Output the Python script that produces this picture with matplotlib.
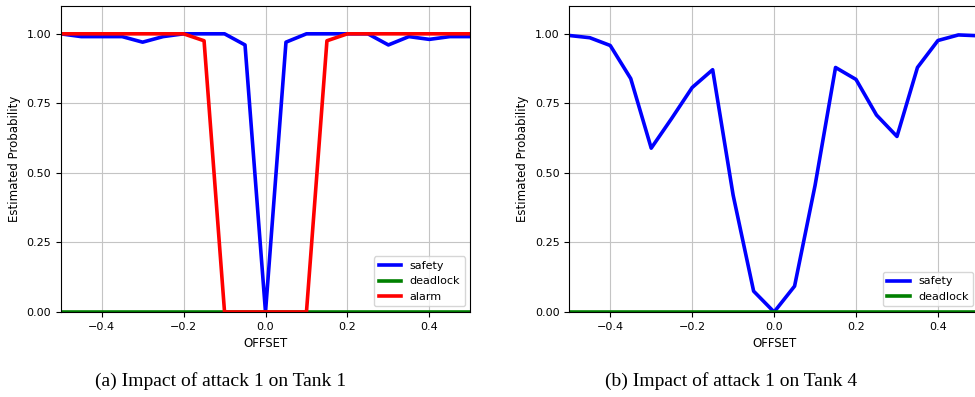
import numpy as np
import matplotlib.pyplot as plt

offset = np.round(np.arange(-0.5, 0.501, 0.05), 2)

# (a) tank 1
safety_t1 = [1.00, 0.99, 0.99, 0.99, 0.97, 0.99, 1.00, 1.00, 1.00, 0.96, 0.00,
             0.97, 1.00, 1.00, 1.00, 1.00, 0.96, 0.99, 0.98, 0.99, 0.99]
deadlock_t1 = [0.0] * 21
alarm_t1 = [1.00, 1.00, 1.00, 1.00, 1.00, 1.00, 1.00, 0.975, 0.00, 0.00, 0.00,
            0.00, 0.00, 0.975, 1.00, 1.00, 1.00, 1.00, 1.00, 1.00, 1.00]

# (b) tank 4
safety_t4 = [0.994, 0.986, 0.958, 0.839, 0.589, 0.696, 0.807, 0.871, 0.42, 0.075, 0.00,
             0.093, 0.455, 0.879, 0.836, 0.708, 0.631, 0.879, 0.976, 0.996, 0.993]
deadlock_t4 = [0.0] * 21

captions = ["(a) Impact of attack 1 on Tank 1", "(b) Impact of attack 1 on Tank 4"]

plt.rcParams["font.size"] = 8

fig = plt.figure(figsize=(9.75, 3.97), dpi=100)
ax1 = fig.add_axes([60.7 / 975, 85 / 397, 409.6 / 975, 306 / 397])
ax2 = fig.add_axes([569.3 / 975, 85 / 397, 409.6 / 975, 306 / 397])

ax1.plot(offset, safety_t1, color="blue", lw=2.6, label="safety")
ax1.plot(offset, deadlock_t1, color="green", lw=2.6, label="deadlock")
ax1.plot(offset, alarm_t1, color="red", lw=2.6, label="alarm")

ax2.plot(offset, safety_t4, color="blue", lw=2.6, label="safety")
ax2.plot(offset, deadlock_t4, color="green", lw=2.6, label="deadlock")

for ax in (ax1, ax2):
    ax.set_xlim(-0.5, 0.5)
    ax.set_ylim(0, 1.1)
    ax.set_yticks([0, 0.25, 0.5, 0.75, 1.0])
    ax.set_xticks([-0.4, -0.2, 0.0, 0.2, 0.4])
    ax.grid(True, color="#c4c4c4", lw=0.8)
    ax.set_xlabel("OFFSET", fontsize=8.5)
    ax.set_ylabel("Estimated Probability", fontsize=8.5)
    ax.legend(loc="lower right", fontsize=8)

fig.text(221 / 975, 1 - 381 / 397, captions[0], ha="center", va="center",
         family="Liberation Serif", fontsize=14)
fig.text(731 / 975, 1 - 381 / 397, captions[1], ha="center", va="center",
         family="Liberation Serif", fontsize=14)

fig.savefig("out.png", dpi=100)
